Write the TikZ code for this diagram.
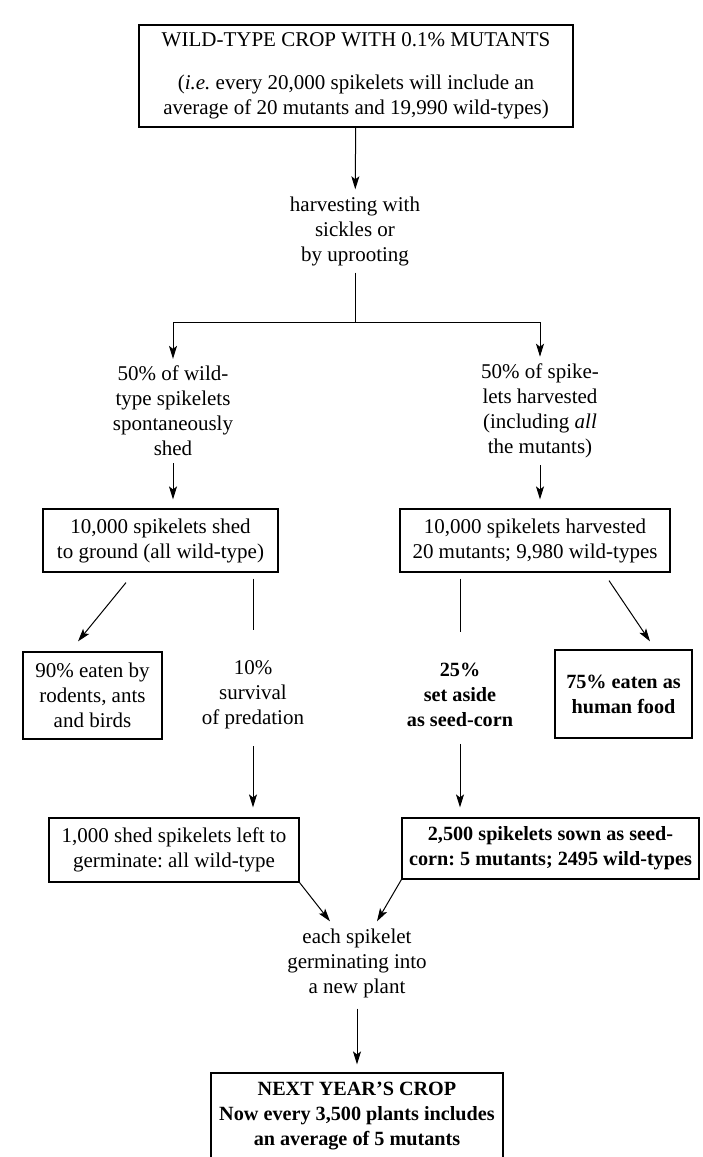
\documentclass[tikz,border=0pt]{standalone}
\usepackage{fontspec}
\setmainfont{Liberation Serif}
\usetikzlibrary{arrows.meta,calc}
\frenchspacing

\tikzset{
  txt/.style={align=center,font=\fontsize{10.5}{12.5}\selectfont},
  box/.style={txt,draw,line width=0.6pt,inner sep=0pt},
  bold/.style={font=\fontsize{10.1}{12.5}\selectfont\bfseries},
  bbox/.style={box,bold},
}

\begin{document}
\begin{tikzpicture}[x=0.5pt,y=-0.5pt,line width=0.5pt,
  >={Stealth[length=6.5pt,width=4pt,inset=1.5pt]}]
  \useasboundingbox (0,0) rectangle (702,1157);

  \node[box,minimum width=217pt,minimum height=51pt] (crop) at (356,76) {WILD-TYPE CROP WITH 0.1\% MUTANTS\\[9pt] (\textit{i.e.} every 20,000 spikelets will include an\\ average of 20 mutants and 19,990 wild-types)};
  \node[txt] (harv) at (355,231) {harvesting with\\ sickles or\\ by uprooting};
  \coordinate (fork) at (355,322);
  \node[txt] (shed) at (173,411) {50\% of wild-\\ type spikelets\\ spontaneously\\ shed};
  \node[txt] (cut) at (540,411) {50\% of spike-\\ lets harvested\\ (including \textit{all}\\ the mutants)};
  \node[box,minimum width=117.5pt,minimum height=31.5pt] (ground) at (160.5,540.5) {10,000 spikelets shed\\ to ground (all wild-type)};
  \node[box,minimum width=135pt,minimum height=31.5pt] (stock) at (535,540.5) {10,000 spikelets harvested\\ 20 mutants; 9,980 wild-types};
  \node[box,minimum width=69.5pt,minimum height=43.5pt] (eaten) at (92.5,695.5) {90\% eaten by\\ rodents, ants\\ and birds};
  \node[txt] (survive) at (253,695) {10\%\\ survival\\ of predation};
  \node[txt,bold] (seed) at (460,695) {25\%\\ set aside\\ as seed-corn};
  \node[bbox,minimum width=68.5pt,minimum height=44pt] (food) at (623.5,694) {75\% eaten as\\ human food};
  \node[box,minimum width=125pt,minimum height=32pt] (left) at (174,850) {1,000 shed spikelets left to\\ germinate: all wild-type};
  \node[bbox,minimum width=148.5pt,minimum height=30.5pt] (sown) at (550.5,848.5) {2,500 spikelets sown as seed-\\ corn: 5 mutants; 2495 wild-types};
  \node[txt] (germ) at (357,963) {each spikelet\\ germinating into\\ a new plant};
  \node[bbox,minimum width=146pt,minimum height=43pt] (next) at (357,1116) {NEXT YEAR'S CROP\\ Now every 3,500 plants includes\\ an average of 5 mutants};

  \draw[->] (crop) -- (harv);
  \draw (harv) -- (fork);
  \draw[->] (fork) -| (shed);
  \draw[->] (fork) -| (cut);
  \draw[->,shorten >=4.5pt] (shed) -- (shed |- ground.north);
  \draw[->,shorten >=4.5pt] (cut) -- (cut |- stock.north);
  \draw[->] ($(ground.south)+(-34.5,10)$) -- ($(eaten.north)+(-14.5,-10)$);
  \draw[shorten <=3pt,shorten >=12pt] (ground.south -| survive) -- (survive);
  \draw[shorten <=3pt,shorten >=12pt] (stock.south -| seed) -- (seed);
  \draw[->] ($(stock.south)+(74,8)$) -- ($(food.north)+(26.5,-8)$);
  \draw[->,shorten <=5pt,shorten >=5pt] (survive) -- (survive |- left.north);
  \draw[->,shorten <=5pt,shorten >=5pt] (seed) -- (seed |- sown.north);
  \draw[->] (left.south east) -- ($(germ.north)+(-27,0)$);
  \draw[->] (sown.south west) -- ($(germ.north)+(20,0)$);
  \draw[->,shorten <=2pt,shorten >=4pt] (germ) -- (next);
\end{tikzpicture}
\end{document}
